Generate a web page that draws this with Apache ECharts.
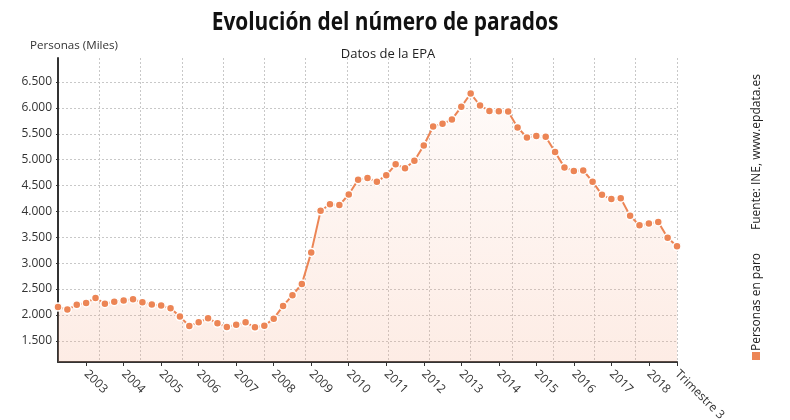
<!DOCTYPE html>
<html>
<head>
<meta charset="utf-8">
<script src="https://cdn.jsdelivr.net/npm/echarts@6/dist/echarts.min.js"></script>
<style>
html,body{margin:0;padding:0;background:#fff;}
#chart{width:790px;height:420px;}
</style>
</head>
<body>
<div id="chart"></div>
<script>
// Quarters (EPA)
const categories = [
  '2002 T1','2002 T2','2002 T3','2002 T4',
  '2003 T1','2003 T2','2003 T3','2003 T4',
  '2004 T1','2004 T2','2004 T3','2004 T4',
  '2005 T1','2005 T2','2005 T3','2005 T4',
  '2006 T1','2006 T2','2006 T3','2006 T4',
  '2007 T1','2007 T2','2007 T3','2007 T4',
  '2008 T1','2008 T2','2008 T3','2008 T4',
  '2009 T1','2009 T2','2009 T3','2009 T4',
  '2010 T1','2010 T2','2010 T3','2010 T4',
  '2011 T1','2011 T2','2011 T3','2011 T4',
  '2012 T1','2012 T2','2012 T3','2012 T4',
  '2013 T1','2013 T2','2013 T3','2013 T4',
  '2014 T1','2014 T2','2014 T3','2014 T4',
  '2015 T1','2015 T2','2015 T3','2015 T4',
  '2016 T1','2016 T2','2016 T3','2016 T4',
  '2017 T1','2017 T2','2017 T3','2017 T4',
  '2018 T1','2018 T2','2018 T3'
];
// Personas en paro (miles)
const parados = [
  2153, 2103, 2196, 2232,
  2328, 2216, 2256, 2277,
  2305, 2245, 2199, 2180,
  2129, 1967, 1787, 1859,
  1936, 1837, 1765, 1811,
  1856, 1760, 1792, 1928,
  2174, 2382, 2599, 3208,
  4011, 4138, 4123, 4327,
  4613, 4646, 4575, 4697,
  4910, 4834, 4978, 5274,
  5640, 5693, 5778, 6021,
  6278, 6047, 5943, 5936,
  5933, 5623, 5428, 5458,
  5445, 5149, 4851, 4780,
  4791, 4575, 4321, 4238,
  4255, 3914, 3732, 3767,
  3796, 3490, 3326
];
// x-axis tick labels: [category where the tick sits, text]
const xTickLabels = [
  ['2002 T4','2003'],['2003 T4','2004'],['2004 T4','2005'],['2005 T4','2006'],
  ['2006 T4','2007'],['2007 T4','2008'],['2008 T4','2009'],['2009 T4','2010'],
  ['2010 T4','2011'],['2011 T4','2012'],['2012 T4','2013'],['2013 T4','2014'],
  ['2014 T4','2015'],['2015 T4','2016'],['2016 T4','2017'],['2017 T4','2018'],
  ['2018 T3','Trimestre 3']
];
const labelMap = {};
xTickLabels.forEach(p => { labelMap[p[0]] = p[1]; });

const FONT = "'Open Sans', 'Noto Sans', sans-serif";
const ORANGE = '#ec8555';

function fmt(v){
  const s = String(Math.round(v));
  return s.replace(/\B(?=(\d{3})+(?!\d))/g, '.');
}

const chart = echarts.init(document.getElementById('chart'), null, {renderer:'canvas'});
chart.setOption({
  animation: false,
  backgroundColor: '#fff',
  textStyle: {fontFamily: FONT},
  title: [
    {text: 'Datos de la EPA', left: 383, top: 43, textAlign: 'center',
     textStyle: {fontFamily: FONT, fontSize: 13, fontWeight: 'normal', color: '#222'}},
    {text: 'Personas (Miles)', left: 25, top: 35,
     textStyle: {fontFamily: FONT, fontSize: 11.6, fontWeight: 'normal', color: '#333'}}
  ],
  grid: {left: 58, right: 113, top: 58, bottom: 58, containLabel: false, outerBoundsMode: 'none'},
  xAxis: [
    {
      type: 'category',
      data: categories,
      boundaryGap: false,
      axisLine: {show: true, lineStyle: {color: '#333', width: 2}},
      axisTick: {show: true, length: 4, lineStyle: {color: '#333'},
                 interval: (i, v) => labelMap[v] !== undefined},
      axisLabel: {show: true, rotate: -45, fontSize: 12, color: '#333', fontFamily: FONT,
                  margin: 10,
                  interval: (i, v) => labelMap[v] !== undefined,
                  formatter: v => labelMap[v] || ''},
      splitLine: {show: false}
    },
    {
      type: 'value', min: 0, max: 15, interval: 1, position: 'bottom',
      axisLine: {show: false}, axisTick: {show: false}, axisLabel: {show: false},
      splitLine: {show: true, lineStyle: {color: '#c8c8c8', type: [2, 2], width: 1}}
    }
  ],
  yAxis: {
    type: 'value',
    min: 1090, max: 6965,
    minInterval: 500, maxInterval: 500, splitNumber: 12,
    axisLine: {show: true, lineStyle: {color: '#333', width: 2}},
    axisTick: {show: true, length: 2, lineStyle: {color: '#333'}},
    axisLabel: {show: true, fontSize: 12, color: '#333', fontFamily: FONT, margin: 6,
                showMinLabel: false, showMaxLabel: false,
                formatter: v => fmt(v)},
    splitLine: {show: true, showMinLine: false, showMaxLine: false,
                lineStyle: {color: '#c8c8c8', type: [2, 2], width: 1}}
  },
  series: [{
    name: 'Personas en paro',
    type: 'line',
    xAxisIndex: 0,
    data: parados,
    symbol: 'circle',
    symbolSize: 8,
    showAllSymbol: true,
    lineStyle: {color: ORANGE, width: 2},
    itemStyle: {color: ORANGE, borderColor: '#fff', borderWidth: 1.5},
    areaStyle: {
      color: new echarts.graphic.LinearGradient(0, 0, 0, 1, [
        {offset: 0, color: 'rgba(246,165,130,0.07)'},
        {offset: 1, color: 'rgba(246,165,130,0.30)'}
      ])
    }
  }],
  graphic: [
    {type: 'text', x: 385, y: 23, scaleX: 0.835, scaleY: 1,
     style: {text: 'Evolución del número de parados', font: 'bold 25px ' + FONT, fill: '#111',
             align: 'center', verticalAlign: 'middle'}},
    {type: 'text', x: 757, y: 152, rotation: Math.PI / 2,
     style: {text: 'Fuente: INE, www.epdata.es', font: '12px ' + FONT, fill: '#222',
             align: 'center', verticalAlign: 'middle'}},
    {type: 'rect', shape: {x: 752, y: 352, width: 8, height: 8},
     style: {fill: ORANGE}},
    {type: 'text', x: 757, y: 302, rotation: Math.PI / 2,
     style: {text: 'Personas en paro', font: '12px ' + FONT, fill: '#222',
             align: 'center', verticalAlign: 'middle'}}
  ]
});
</script>
</body>
</html>
